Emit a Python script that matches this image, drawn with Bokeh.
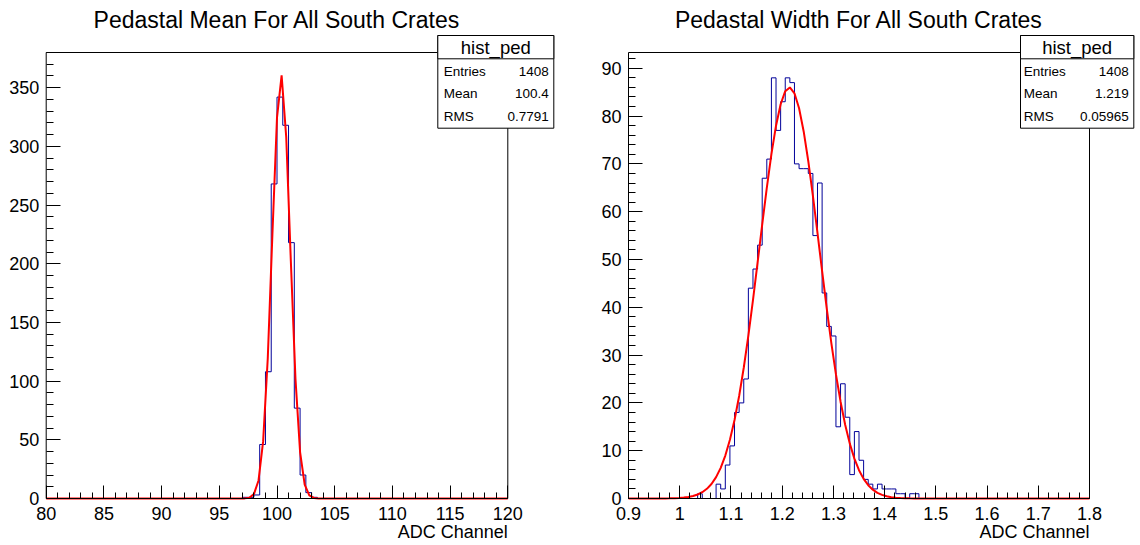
import numpy as np
from bokeh.plotting import figure
from bokeh.models import (Range1d, FixedTicker, BoxAnnotation, Label,
                          CustomJSTickFormatter)
from bokeh.layouts import row
from bokeh.embed import file_html
from bokeh.resources import INLINE

# ---------------- data ----------------
mean_title = "Pedastal Mean For All South Crates"
width_title = "Pedastal Width For All South Crates"
x_label = "ADC Channel"
stats_name = "hist_ped"
stats_keys = ["Entries", "Mean", "RMS"]
mean_stats = ["1408", "100.4", "0.7791"]
width_stats = ["1408", "1.219", "0.05965"]

# pedestal mean histogram: 80 bins of 0.5 from 80 to 120
mean_lo, mean_hi, mean_nbins = 80.0, 120.0, 80
mean_counts = [0] * 34 + [1, 1, 3, 46, 108, 268, 342, 318, 218, 77, 20, 5, 1] + [0] * 33
mean_ymax = 380.0
mean_fit = dict(amp=361.0, mu=100.36, sigma=0.78)
mean_xticks = [80, 85, 90, 95, 100, 105, 110, 115, 120]
mean_xminor = list(range(80, 121, 1))
mean_yticks = [0, 50, 100, 150, 200, 250, 300, 350]
mean_yminor = list(range(0, 381, 10))

# pedestal width histogram: 100 bins of 0.009 from 0.9 to 1.8
width_lo, width_hi, width_nbins = 0.9, 1.8, 100
width_counts = [0] * 15 + [1, 0, 0, 0,
                           3, 2, 7, 11, 18, 20, 25, 44, 48, 53,
                           67, 71, 88, 77, 83, 88, 87, 70, 69, 69,
                           68, 55, 66, 43, 36, 34, 15, 24, 17, 5,
                           14, 8, 4, 3, 2, 3, 2, 2, 2, 1,
                           1, 0, 1, 1] + [0] * 37
width_ymax = 93.3
width_fit = dict(amp=86.0, mu=1.214, sigma=0.0588)
width_xticks = [0.9, 1.0, 1.1, 1.2, 1.3, 1.4, 1.5, 1.6, 1.7, 1.8]
width_xminor = [round(0.9 + 0.02 * i, 2) for i in range(46)]
width_yticks = [0, 10, 20, 30, 40, 50, 60, 70, 80, 90]
width_yminor = list(range(0, 93, 2))

FONT = "Liberation Sans"
HIST_COLOR = "#000099"
FIT_COLOR = "#ff0000"
W, H = 570, 545


def make_panel(title, lo, hi, nbins, counts, ymax, fit, xticks, xminor, yticks, yminor,
               origin_x, frame_px, box_px, stats_vals, xfmt=None):
    fl, ft, fr, fb = frame_px  # page pixel coords of the drawing frame

    def dx(px):
        return lo + (px - fl) / (fr - fl) * (hi - lo)

    def dy(py):
        return (fb - py) / (fb - ft) * ymax

    p = figure(width=W, height=H, output_backend="svg", toolbar_location=None,
               x_range=Range1d(dx(origin_x), dx(origin_x + W)),
               y_range=Range1d(dy(H), dy(0)), min_border=0,
               min_border_left=0, min_border_right=0, min_border_top=0, min_border_bottom=0)
    p.background_fill_color = "white"
    p.border_fill_color = "white"
    p.outline_line_color = None
    p.xgrid.visible = False
    p.ygrid.visible = False

    xa, ya = p.xaxis[0], p.yaxis[0]
    xa.fixed_location = 0
    ya.fixed_location = lo
    xa.bounds = (lo, hi)
    ya.bounds = (0, ymax)
    xa.ticker = FixedTicker(ticks=xticks, minor_ticks=xminor)
    ya.ticker = FixedTicker(ticks=yticks, minor_ticks=yminor)
    for ax, tin in ((xa, 13), (ya, 14)):
        ax.major_tick_in = tin
        ax.major_tick_out = 0
        ax.minor_tick_in = tin // 2
        ax.minor_tick_out = 0
        ax.major_tick_line_color = "black"
        ax.minor_tick_line_color = "black"
        ax.axis_line_color = None
        ax.major_label_text_font = FONT
        ax.major_label_text_font_size = "18px"
        ax.major_label_text_color = "black"
    xa.major_label_standoff = 8
    ya.major_label_standoff = 7
    if xfmt is not None:
        xa.formatter = xfmt

    edges = np.linspace(lo, hi, nbins + 1)
    ys = list(counts) + [counts[-1]]
    p.step(edges, ys, mode="after", line_color=HIST_COLOR, line_width=1)

    fx = np.linspace(lo, hi, 101)
    fy = fit["amp"] * np.exp(-0.5 * ((fx - fit["mu"]) / fit["sigma"]) ** 2)
    p.line(fx, fy, line_color=FIT_COLOR, line_width=2)

    # frame rectangle
    p.add_layout(BoxAnnotation(left=lo, right=hi, bottom=0, top=ymax, fill_alpha=0,
                               line_color="black", line_alpha=1, line_width=1))

    # title and x-axis label
    p.add_layout(Label(x=(lo + hi) / 2, y=dy(19), text=title, text_align="center",
                       text_baseline="middle", text_font=FONT, text_font_size="23px",
                       text_color="black"))
    p.add_layout(Label(x=dx(fr), y=dy(531), text=x_label, text_align="right",
                       text_baseline="middle", text_font=FONT, text_font_size="18px",
                       text_color="black"))

    # statistics box
    bl, br, bt, bh, bb, tl, tr = box_px
    p.add_layout(BoxAnnotation(left=dx(bl), right=dx(br), top=dy(bt), bottom=dy(bb),
                               fill_color="white", fill_alpha=1, line_color="black",
                               line_alpha=1, line_width=1, level="overlay"))
    p.add_layout(BoxAnnotation(left=dx(bl), right=dx(br), top=dy(bt), bottom=dy(bh),
                               fill_color="white", fill_alpha=1, line_color="black",
                               line_alpha=1, line_width=1, level="overlay"))
    p.add_layout(Label(x=dx((bl + br) / 2), y=dy((bt + bh) / 2 + 0.5), text=stats_name,
                       text_align="center", text_baseline="middle", text_font=FONT,
                       text_font_size="18.5px", text_color="black", level="overlay"))
    for k, v, y in zip(stats_keys, stats_vals, [70.7, 93.3, 116.0]):
        p.add_layout(Label(x=dx(tl), y=dy(y), text=k, text_align="left",
                           text_baseline="middle", text_font=FONT, text_font_size="13.5px",
                           text_color="black", level="overlay"))
        p.add_layout(Label(x=dx(tr), y=dy(y), text=v, text_align="right",
                           text_baseline="middle", text_font=FONT, text_font_size="13.5px",
                           text_color="black", level="overlay"))
    return p


p1 = make_panel(mean_title, mean_lo, mean_hi, mean_nbins, mean_counts, mean_ymax, mean_fit,
                mean_xticks, mean_xminor, mean_yticks, mean_yminor,
                0, (45.7, 52, 507.3, 498), (437.3, 553.3, 35, 58.3, 127.7, 443.3, 548.3),
                mean_stats)

fmt = CustomJSTickFormatter(code="return Number(tick.toFixed(3)).toString();")
p2 = make_panel(width_title, width_lo, width_hi, width_nbins, width_counts, width_ymax, width_fit,
                width_xticks, width_xminor, width_yticks, width_yminor,
                570, (628, 52, 1089, 498), (1020, 1133.3, 35, 58.3, 127.7, 1023.3, 1128.3),
                width_stats, xfmt=fmt)

layout = row(p1, p2)
open("out.html", "w").write(file_html(layout, INLINE))
